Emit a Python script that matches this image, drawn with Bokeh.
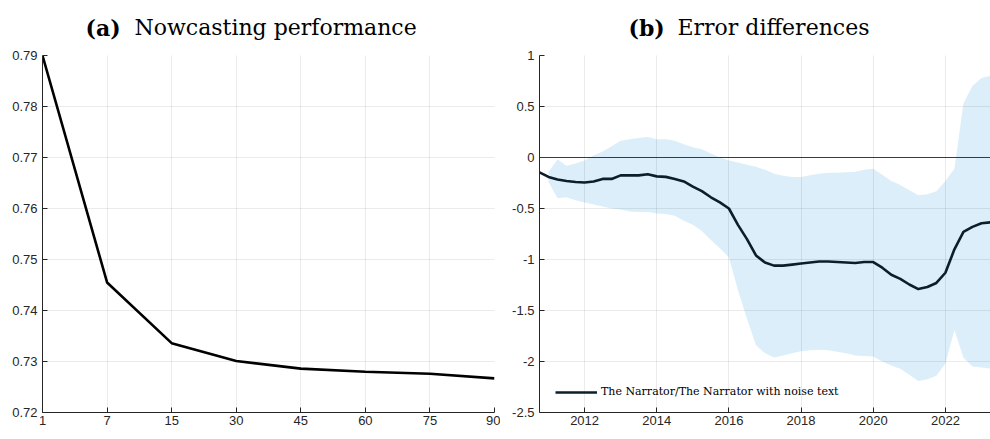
from bokeh.plotting import figure
from bokeh.layouts import row, column
from bokeh.models import FixedTicker, Span, Legend, LegendItem
from bokeh.core.properties import value
from bokeh.embed import file_html
from bokeh.resources import INLINE

# ---------------- data ----------------
horizons = ["1", "7", "15", "30", "45", "60", "75", "90"]
rmse = [0.790, 0.7455, 0.7336, 0.7301, 0.7286, 0.7280, 0.7276, 0.7267]

quarters = [2010.75 + 0.25 * k for k in range(51)]
diff = [-0.145, -0.19, -0.215, -0.23, -0.24, -0.245, -0.235, -0.21, -0.21, -0.175,
        -0.175, -0.175, -0.165, -0.185, -0.19, -0.21, -0.235, -0.285, -0.33, -0.39,
        -0.44, -0.50, -0.66, -0.80, -0.96, -1.03, -1.06, -1.06, -1.05, -1.04,
        -1.03, -1.02, -1.02, -1.025, -1.03, -1.035, -1.025, -1.025, -1.08, -1.15,
        -1.19, -1.245, -1.29, -1.27, -1.23, -1.13, -0.90, -0.73, -0.68, -0.645, -0.635]
band_upper = [-0.14, -0.02, -0.08, -0.06, -0.03, 0.02, 0.06, 0.11, 0.165, 0.18,
              0.19, 0.20, 0.18, 0.18, 0.165, 0.13, 0.10, 0.08, 0.04, 0.0,
              -0.03, -0.05, -0.07, -0.09, -0.12, -0.16, -0.18, -0.19, -0.19, -0.175,
              -0.16, -0.15, -0.15, -0.145, -0.14, -0.12, -0.11, -0.17, -0.23, -0.27,
              -0.32, -0.37, -0.36, -0.33, -0.23, -0.11, 0.53, 0.70, 0.78, 0.80]
band_lower = [-0.24, -0.40, -0.39, -0.42, -0.44, -0.46, -0.48, -0.50, -0.51, -0.53,
              -0.535, -0.535, -0.55, -0.555, -0.57, -0.62, -0.66, -0.72, -0.81, -0.89,
              -0.98, -1.30, -1.58, -1.84, -1.92, -1.96, -1.94, -1.92, -1.90, -1.89,
              -1.885, -1.89, -1.905, -1.92, -1.94, -1.945, -1.95, -2.00, -2.04, -2.07,
              -2.13, -2.19, -2.175, -2.14, -2.02, -1.69, -1.96, -2.05, -2.06, -2.07]
band_quarters = quarters[1:]

left_yticks = [0.72, 0.73, 0.74, 0.75, 0.76, 0.77, 0.78, 0.79]
right_yticks = [-2.5, -2.0, -1.5, -1.0, -0.5, 0.0, 0.5, 1.0]
right_xticks = [2012, 2014, 2016, 2018, 2020, 2022]

title_tags = ["(a)", "(b)"]
title_texts = ["Nowcasting performance", "Error differences"]
legend_label = "The Narrator/The Narrator with noise text"

AX = "#262626"
TICK_FONT = "Liberation Sans"


def style(p):
    p.outline_line_color = None
    p.background_fill_color = "white"
    p.border_fill_color = "white"
    for ax in (p.xaxis[0], p.yaxis[0]):
        ax.axis_line_color = AX
        ax.axis_line_width = 1
        ax.major_tick_line_color = AX
        ax.major_tick_in = 5
        ax.major_tick_out = 0
        ax.minor_tick_line_color = None
        ax.major_label_text_font = TICK_FONT
        ax.major_label_text_font_size = "13px"
        ax.major_label_text_color = AX
    p.xaxis[0].major_label_standoff = 3
    p.yaxis[0].major_label_standoff = 5
    for g in (p.xgrid[0], p.ygrid[0]):
        g.grid_line_color = "#000000"
        g.grid_line_alpha = 0.08
        g.level = "overlay"


# ---------------- title strip ----------------
pt = figure(width=990, height=40, output_backend="svg", toolbar_location=None,
            x_range=(0, 990), y_range=(0, 40), x_axis_type=None, y_axis_type=None,
            min_border=0, min_border_left=0, min_border_right=0,
            min_border_top=0, min_border_bottom=0)
pt.outline_line_color = None
pt.grid.visible = False
pt.text(x=[85, 628], y=[13, 13], text=title_tags, text_font=value("DejaVu Serif"),
        text_font_style="bold", text_font_size="22px", text_baseline="alphabetic",
        text_color="black")
pt.text(x=[134, 677], y=[13, 13], text=title_texts, text_font=value("DejaVu Serif"),
        text_font_size="22px", text_baseline="alphabetic", text_color="black")

# ---------------- left panel ----------------
idx = list(range(len(horizons)))
p1 = figure(width=500, height=399, output_backend="svg", toolbar_location=None,
            x_range=(0, 7), y_range=(0.72, 0.79),
            min_border_left=42, min_border_right=6, min_border_top=15, min_border_bottom=27)
p1.line(idx, rmse, line_color="black", line_width=2.6)
p1.xaxis[0].ticker = FixedTicker(ticks=idx)
p1.xaxis[0].major_label_overrides = {i: h for i, h in zip(idx, horizons)}
p1.yaxis[0].ticker = FixedTicker(ticks=left_yticks)
p1.yaxis[0].major_label_overrides = {v: f"{v:.2f}" for v in left_yticks}
style(p1)

# ---------------- right panel ----------------
p2 = figure(width=490, height=399, output_backend="svg", toolbar_location=None,
            x_range=(2010.75, 2023.25), y_range=(-2.5, 1.0),
            min_border_left=39, min_border_right=0, min_border_top=15, min_border_bottom=27)
p2.varea(x=band_quarters, y1=band_lower, y2=band_upper, fill_color="#dbeef9", fill_alpha=1.0)
p2.add_layout(Span(location=0, dimension="width", line_color="#404040", line_width=1))
line_r = p2.line(quarters, diff, line_color="#0d1e2b", line_width=2.6)
p2.xaxis[0].ticker = FixedTicker(ticks=right_xticks)
p2.xaxis[0].major_label_overrides = {v: str(v) for v in right_xticks}
p2.yaxis[0].ticker = FixedTicker(ticks=right_yticks)
p2.yaxis[0].major_label_overrides = {v: f"{v:g}" for v in right_yticks}
style(p2)

legend = Legend(items=[LegendItem(label=legend_label, renderers=[line_r])],
                location=(16, 14), glyph_width=42, glyph_height=12, label_standoff=4,
                padding=0, margin=0, spacing=0, border_line_alpha=0, background_fill_alpha=0,
                label_text_font="DejaVu Serif", label_text_font_size="11px",
                label_text_color="black", label_height=12)
p2.add_layout(legend)

layout = column(pt, row(p1, p2, spacing=0), spacing=0)
open("out.html", "w").write(file_html(layout, INLINE))
